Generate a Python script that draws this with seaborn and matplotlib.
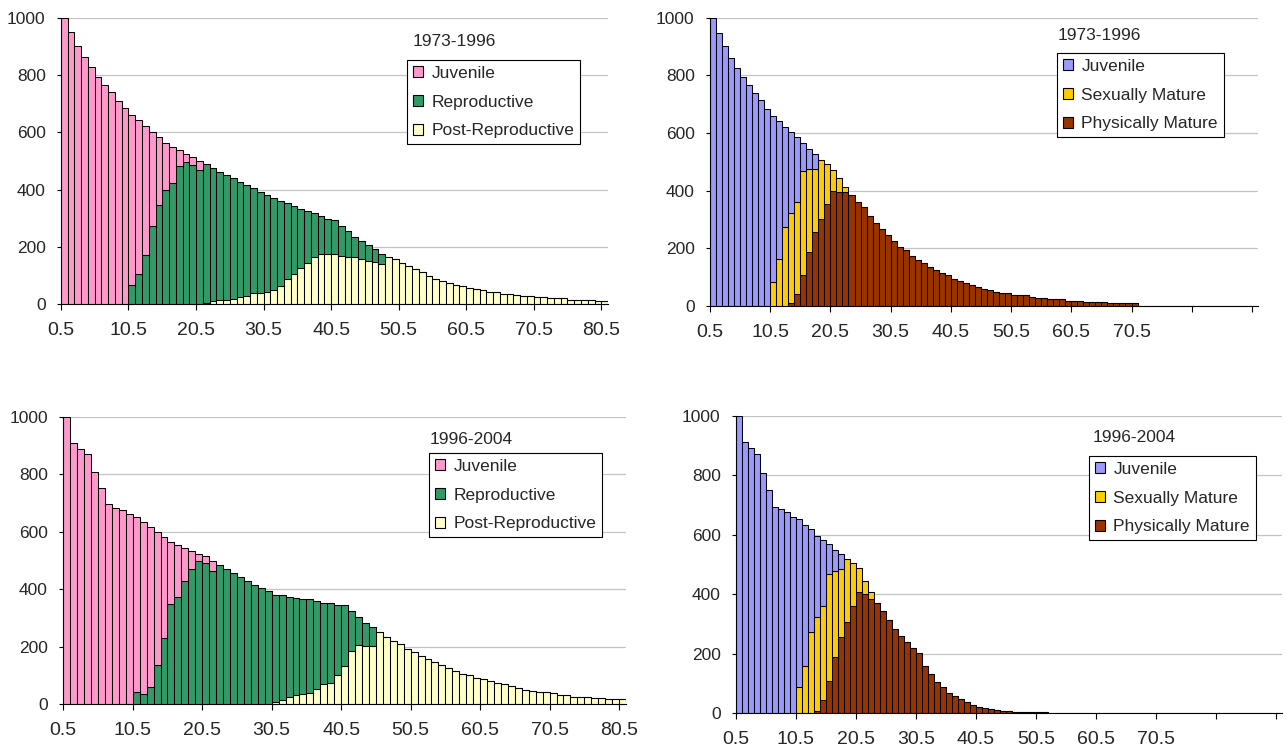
import numpy as np
import pandas as pd
import matplotlib
matplotlib.use("Agg")
import matplotlib.pyplot as plt
import seaborn as sns
from matplotlib.patches import Patch

sns.set_style("white")
plt.rcParams['font.family'] = ['Liberation Sans', 'DejaVu Sans']

# ---------------- data ----------------
# Each stage: first age class where it appears, then its values (age classes of 1 year)
# Top-left: 1973-1996, reproductive stages
tl_n_ages = 81
tl_juvenile_start = 0.5
tl_juvenile = [1000, 951, 902, 862, 827, 794, 765, 740, 711, 685, 594, 536, 451, 329, 237,
               166, 126, 56, 25, 29, 29]
tl_reproductive_start = 10.5
tl_reproductive = [68, 106, 170, 274, 347, 397, 423, 481, 498, 485,
                   470, 487, 465, 447, 436, 422, 404, 388, 368, 354,
                   339, 323, 297, 265, 236, 206, 180, 151, 135, 123,
                   120, 106, 92, 71, 60, 55, 45, 35]
tl_post_start = 21.5
tl_post = [3, 9, 13, 15, 19, 23, 29, 38, 38,
           43, 49, 64, 87, 106, 125, 145, 166, 174, 174,
           174, 168, 163, 163, 159, 150, 146, 140, 166, 156,
           143, 134, 121, 111, 99, 87, 79, 73, 68, 62,
           57, 52, 48, 43, 43, 36, 34, 31, 29, 29,
           24, 24, 20, 20, 20, 15, 15, 15, 15, 10, 10]

# Top-right: 1973-1996, maturity stages
tr_n_ages = 71
tr_juvenile_start = 0.5
tr_juvenile = [1000, 946, 902, 859, 825, 795, 766, 738, 714, 684, 576, 480, 347, 278, 223, 97, 68, 50]
tr_sexual_start = 10.5
tr_sexual = [84, 163, 275, 315, 320, 358, 289, 221, 205, 138, 72, 49, 20]
tr_physical_start = 13.5
tr_physical = [9, 42, 109, 187, 255, 301, 354, 400, 394, 394,
               385, 362, 342, 313, 289, 266, 246,
               227, 206, 194, 173, 160, 148, 136, 125, 116, 106,
               95, 88, 79, 74, 65, 60, 55, 49, 46, 46,
               39, 37, 37, 32, 28, 28, 23, 23, 23, 18,
               18, 18, 14, 14, 14, 14, 9, 9, 9, 9, 9]

# Bottom-left: 1996-2004, reproductive stages
bl_n_ages = 81
bl_juvenile_start = 0.5
bl_juvenile = [1000, 907, 887, 872, 806, 751, 695, 684, 675, 661, 609, 600, 555, 464, 349,
               218, 179, 116, 65, 24, 24, 36]
bl_reproductive_start = 10.5
bl_reproductive = [41, 35, 60, 136, 231, 347, 374, 428, 469, 499, 490, 463,
                   484, 469, 455, 443, 428, 413, 403, 393,
                   372, 364, 348, 338, 329, 325, 307, 284, 279, 246, 211, 138, 98, 79, 65]
bl_post_start = 30.5
bl_post = [6, 14, 26, 30, 35, 39, 51, 69, 74, 100, 132, 186, 204, 202, 202,
           252, 233, 219, 209, 193,
           181, 167, 157, 147, 136, 126, 116, 106, 100, 91,
           86, 80, 73, 68, 61, 56, 50, 46, 42, 42,
           37, 31, 31, 26, 26, 26, 21, 21, 16, 16, 16]

# Bottom-right: 1996-2004, maturity stages
br_n_ages = 52
br_juvenile_start = 0.5
br_juvenile = [1000, 911, 893, 872, 809, 750, 694, 685, 675, 661, 565, 472, 346, 274, 221, 100, 71, 50]
br_sexual_start = 10.5
br_sexual = [87, 160, 272, 314, 318, 358, 288, 226, 209, 144, 80, 44, 23]
br_physical_start = 13.5
br_physical = [9, 43, 110, 190, 258, 308, 360, 409, 401, 384,
               372, 344, 314, 284, 260, 239, 220,
               202, 160, 132, 106, 87, 67, 58, 47, 38, 29,
               22, 17, 13, 11, 9, 9, 5, 5, 4, 3, 3, 3]

repro_labels = ["Juvenile", "Reproductive", "Post-Reproductive"]
repro_colors = ["#FF99CC", "#339966", "#FFFFCC"]
mature_labels = ["Juvenile", "Sexually Mature", "Physically Mature"]
mature_colors = ["#9999FF", "#FFCC00", "#993300"]

left_ticks = [0.5, 10.5, 20.5, 30.5, 40.5, 50.5, 60.5, 70.5, 80.5]
left_tick_labels = ["0.5", "10.5", "20.5", "30.5", "40.5", "50.5", "60.5", "70.5", "80.5"]
right_ticks = [0.5, 10.5, 20.5, 30.5, 40.5, 50.5, 60.5, 70.5, 80.5, 90.5]
right_tick_labels = ["0.5", "10.5", "20.5", "30.5", "40.5", "50.5", "60.5", "70.5", "", ""]
y_ticks = [0, 200, 400, 600, 800, 1000]


def stage_frame(n_ages, stages):
    ages = np.arange(n_ages) + 0.5
    frames = []
    for name, start, vals in stages:
        full = np.zeros(n_ages)
        i0 = int(round(start - 0.5))
        full[i0:i0 + len(vals)] = vals
        frames.append(pd.DataFrame({"age": ages, "stage": name, "count": full}))
    return pd.concat(frames, ignore_index=True)


fig = plt.figure(figsize=(12.86, 7.54), dpi=100)

panels = [
    dict(rect=[0.0474, 0.5968, 0.4254, 0.3793], n=tl_n_ages, axis_n=81,
         stages=[(repro_labels[0], tl_juvenile_start, tl_juvenile),
                 (repro_labels[1], tl_reproductive_start, tl_reproductive),
                 (repro_labels[2], tl_post_start, tl_post)],
         labels=repro_labels, colors=repro_colors, ticks=left_ticks, ticklabels=left_tick_labels,
         title="1973-1996", title_xy=(413, 42), leg_xy=(407, 60)),
    dict(rect=[0.5521, 0.5942, 0.4261, 0.3824], n=tr_n_ages, axis_n=91,
         stages=[(mature_labels[0], tr_juvenile_start, tr_juvenile),
                 (mature_labels[1], tr_sexual_start, tr_sexual),
                 (mature_labels[2], tr_physical_start, tr_physical)],
         labels=mature_labels, colors=mature_colors, ticks=right_ticks, ticklabels=right_tick_labels,
         title="1973-1996", title_xy=(1058, 35), leg_xy=(1057, 53)),
    dict(rect=[0.0492, 0.0663, 0.4376, 0.3810], n=bl_n_ages, axis_n=81,
         stages=[(repro_labels[0], bl_juvenile_start, bl_juvenile),
                 (repro_labels[1], bl_reproductive_start, bl_reproductive),
                 (repro_labels[2], bl_post_start, bl_post)],
         labels=repro_labels, colors=repro_colors, ticks=left_ticks, ticklabels=left_tick_labels,
         title="1996-2004", title_xy=(430, 440), leg_xy=(429, 453)),
    dict(rect=[0.5723, 0.0540, 0.4246, 0.3947], n=br_n_ages, axis_n=91,
         stages=[(mature_labels[0], br_juvenile_start, br_juvenile),
                 (mature_labels[1], br_sexual_start, br_sexual),
                 (mature_labels[2], br_physical_start, br_physical)],
         labels=mature_labels, colors=mature_colors, ticks=right_ticks, ticklabels=right_tick_labels,
         title="1996-2004", title_xy=(1093, 437), leg_xy=(1089, 456)),
]

W, H = 1286, 754
for p in panels:
    ax = fig.add_axes(p["rect"])
    df = stage_frame(p["n"], p["stages"])
    pal = dict(zip(p["labels"], p["colors"]))
    sns.histplot(data=df, x="age", weights="count", hue="stage", hue_order=p["labels"],
                 multiple="stack", binwidth=1.0, binrange=(0.5, p["n"] + 0.5),
                 palette=pal, edgecolor="black", linewidth=0.75, alpha=1,
                 legend=False, ax=ax)
    ax.set_xlim(0.5, p["axis_n"] + 0.5)
    ax.set_ylim(0, 1000)
    ax.set_yticks(y_ticks)
    ax.set_yticklabels([str(v) for v in y_ticks])
    ax.set_xticks(p["ticks"])
    ax.set_xticklabels(p["ticklabels"])
    ax.set_xlabel("")
    ax.set_ylabel("")
    ax.yaxis.grid(True, color="#c4c4c4", linewidth=0.9)
    ax.xaxis.grid(False)
    ax.set_axisbelow(True)
    for s in ["top", "right"]:
        ax.spines[s].set_visible(False)
    for s in ["left", "bottom"]:
        ax.spines[s].set_color("black")
        ax.spines[s].set_linewidth(0.8)
    ax.tick_params(axis="x", direction="out", length=4, width=0.8, color="black",
                   labelsize=14, pad=9, bottom=True)
    ax.tick_params(axis="y", direction="out", length=3, width=0.8, color="black",
                   labelsize=12.5, pad=8, left=True)

    handles = [Patch(facecolor=c, edgecolor="black", linewidth=0.8, label=l)
               for l, c in zip(p["labels"], p["colors"])]
    leg = ax.legend(handles=handles, loc="upper left",
                    bbox_to_anchor=(p["leg_xy"][0] / W, 1 - p["leg_xy"][1] / H),
                    bbox_transform=fig.transFigure, frameon=True, fancybox=False,
                    edgecolor="black", framealpha=1, fontsize=12.5,
                    handlelength=0.6, handleheight=0.6, handletextpad=0.45,
                    labelspacing=0.78, borderpad=0.35, borderaxespad=0)
    leg.get_frame().set_linewidth(0.8)
    fig.text(p["title_xy"][0] / W, 1 - p["title_xy"][1] / H, p["title"],
             ha="left", va="center", fontsize=12.5)

fig.savefig("out.png", dpi=100)
